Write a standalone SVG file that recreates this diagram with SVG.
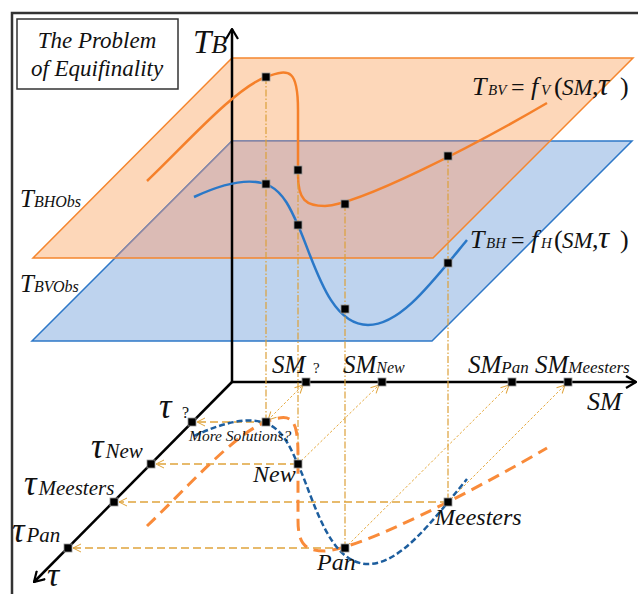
<svg xmlns="http://www.w3.org/2000/svg" width="638" height="594" viewBox="0 0 638 594">
<defs>
<style>
.it{font-family:"Liberation Serif","Times New Roman",serif;font-style:italic;fill:#111}
.rm{font-family:"Liberation Serif","Times New Roman",serif;font-style:normal;fill:#111}
.axis{stroke:#000;stroke-width:2.5;fill:none}
.vp{stroke:#dca13a;stroke-width:1.2;stroke-dasharray:7 2 1.5 2;fill:none}
.hp{stroke:#e0a43c;stroke-width:1.3;stroke-dasharray:8 4;fill:none;marker-end:url(#pa)}
.dp{stroke:#e6aa40;stroke-width:1;stroke-dasharray:2.5 2;fill:none;marker-end:url(#pa)}
.sq{fill:#000;stroke:#9a9a9a;stroke-width:0.8}
</style>
<marker id="aa" markerUnits="userSpaceOnUse" viewBox="0 0 12 14" refX="11" refY="7" markerWidth="12" markerHeight="14" orient="auto"><path d="M1,1 L11,7 L1,13" fill="none" stroke="#000" stroke-width="2.2"/></marker>
<marker id="pa" markerUnits="userSpaceOnUse" viewBox="0 0 10 10" refX="9" refY="5" markerWidth="10" markerHeight="10" orient="auto-start-reverse"><path d="M1,1 L9,5 L1,9" fill="none" stroke="#e0a43c" stroke-width="1"/></marker>
<rect id="m" x="-4" y="-4" width="8" height="8" class="sq"/>
</defs>

<g id="frame">
<path d="M12,594 L12,13 L638,13" fill="none" stroke="#333" stroke-width="2.5"/>
</g>

<g id="title">
<rect x="17" y="19" width="161" height="70" fill="#fff" stroke="#333" stroke-width="1.5"/>
<text class="it" x="97" y="48" font-size="23" text-anchor="middle">The Problem</text>
<text class="it" x="97" y="76" font-size="23" text-anchor="middle">of Equifinality</text>
</g>

<g id="planes">
<polygon points="232,58 633,58 433,258 33,258" fill="#fdd7b9"/>
<polygon points="232,141 632,141 432,341 32,341" fill="#bed3ee" stroke="#2e78c8" stroke-width="1.5"/>
<polygon points="232,141 550,141 433,258 115,258" fill="#dbbbb5"/>
<path d="M115,258 L232,141 L550,141" fill="none" stroke="#8d87a2" stroke-width="1.5"/>
<polygon points="232,58 633,58 433,258 33,258" fill="none" stroke="#f5862e" stroke-width="1.5"/>
</g>

<g id="axes">
<line class="axis" x1="232" y1="382" x2="232" y2="29" marker-end="url(#aa)"/>
<line class="axis" x1="232" y1="382" x2="636" y2="382" marker-end="url(#aa)"/>
<line class="axis" x1="232" y1="382" x2="34" y2="582" marker-end="url(#aa)"/>
</g>

<g id="curves-top">
<path d="M147,181 C185,145 235,88 266,77 C290,68 298,70 298,110 L298,175 C298,200 306,206 325,206 C360,204 470,148 547,103" fill="none" stroke="#f5802a" stroke-width="2.5"/>
<path d="M194,197 C222,184 250,176 270,186 C285,194 292,212 300,230 C315,265 330,325 368,325 C400,325 430,285 467,240" fill="none" stroke="#2a78c8" stroke-width="2.5"/>
</g>

<g id="connectors">
<line class="vp" x1="266" y1="77" x2="266" y2="422"/>
<line class="vp" x1="298" y1="170" x2="298" y2="464"/>
<line class="vp" x1="345" y1="204" x2="345" y2="548"/>
<line class="vp" x1="448" y1="156" x2="448" y2="502"/>
<line class="hp" x1="266" y1="422" x2="197" y2="422"/>
<line class="hp" x1="298" y1="464" x2="156" y2="464"/>
<line class="hp" x1="448" y1="502" x2="119" y2="502"/>
<line class="hp" x1="345" y1="548" x2="73" y2="548"/>
<line class="dp" x1="268" y1="420" x2="303" y2="385" marker-start="url(#pa)"/>
<line class="dp" x1="298" y1="464" x2="379" y2="385"/>
<line class="dp" x1="345" y1="548" x2="509" y2="385"/>
<line class="dp" x1="448" y1="502" x2="565" y2="385"/>
</g>

<g id="curves-bottom">
<path transform="translate(0,345)" d="M147,181 C185,145 235,88 266,77 C290,68 298,70 298,110 L298,175 C298,200 306,206 325,206 C360,204 470,148 547,103" fill="none" stroke="#f98b3a" stroke-width="3" stroke-dasharray="12 7"/>
<path transform="translate(0,239)" d="M194,197 C222,184 250,176 270,186 C285,194 292,212 300,230 C315,265 330,325 368,325 C400,325 430,285 467,240" fill="none" stroke="#1d5e9e" stroke-width="2.5" stroke-dasharray="6 3"/>
</g>

<g id="markers">
<use href="#m" x="266" y="77"/><use href="#m" x="298" y="170"/><use href="#m" x="345" y="204"/><use href="#m" x="448" y="156"/>
<use href="#m" x="266" y="184"/><use href="#m" x="298" y="225"/><use href="#m" x="345" y="309"/><use href="#m" x="448" y="263"/>
<use href="#m" x="266" y="422"/><use href="#m" x="298" y="464"/><use href="#m" x="345" y="548"/><use href="#m" x="448" y="502"/>
<use href="#m" x="192" y="422"/><use href="#m" x="151" y="464"/><use href="#m" x="114" y="502"/><use href="#m" x="68" y="548"/>
<use href="#m" x="306" y="382"/><use href="#m" x="382" y="382"/><use href="#m" x="512" y="382"/><use href="#m" x="568" y="382"/>
</g>

<g id="labels">
<text class="it" x="193" y="53" font-size="33">T<tspan font-size="26">B</tspan></text>
<text class="it" y="95" font-size="26"><tspan x="472">T</tspan><tspan x="488" font-size="15">BV</tspan><tspan class="rm" x="511" font-size="24">=</tspan><tspan x="531">f</tspan><tspan x="541" font-size="15">V</tspan><tspan class="rm" x="554">(</tspan><tspan x="562" font-size="23">SM</tspan><tspan class="rm" x="592">,</tspan><tspan x="598" font-size="31">τ</tspan><tspan class="rm" x="620">)</tspan></text>
<text class="it" y="248" font-size="26"><tspan x="470">T</tspan><tspan x="486" font-size="15">BH</tspan><tspan class="rm" x="511" font-size="24">=</tspan><tspan x="531">f</tspan><tspan x="541" font-size="15">H</tspan><tspan class="rm" x="554">(</tspan><tspan x="562" font-size="23">SM</tspan><tspan class="rm" x="592">,</tspan><tspan x="598" font-size="31">τ</tspan><tspan class="rm" x="620">)</tspan></text>
<text class="it" x="20" y="207" font-size="25">T<tspan font-size="16">BHObs</tspan></text>
<text class="it" x="20" y="292" font-size="25">T<tspan font-size="16">BVObs</tspan></text>

<text class="it" x="272" y="373" font-size="25">SM</text>
<text class="rm" x="313" y="373" font-size="15">?</text>
<text class="it" x="343" y="373" font-size="25">SM<tspan font-size="16">New</tspan></text>
<text class="it" x="468" y="373" font-size="25">SM<tspan font-size="17">Pan</tspan></text>
<text class="it" x="535" y="373" font-size="25">SM<tspan font-size="17">Meesters</tspan></text>
<text class="it" x="587" y="410" font-size="26">SM</text>

<text class="it" x="159" y="418" font-size="35">τ</text>
<text class="rm" x="182" y="418" font-size="16">?</text>
<text class="it" x="91" y="458" font-size="35">τ<tspan font-size="21" dx="2">New</tspan></text>
<text class="it" x="24" y="495" font-size="35">τ<tspan font-size="21" dx="2">Meesters</tspan></text>
<text class="it" x="12" y="542" font-size="35">τ<tspan font-size="21" dx="2">Pan</tspan></text>
<text class="it" x="47" y="586" font-size="34">τ</text>

<text class="it" x="189" y="441" font-size="15.5">More Solutions?</text>
<text class="it" x="253" y="482" font-size="24">New</text>
<text class="it" x="317" y="570" font-size="24">Pan</text>
<text class="it" x="435" y="525" font-size="24">Meesters</text>
</g>
</svg>
